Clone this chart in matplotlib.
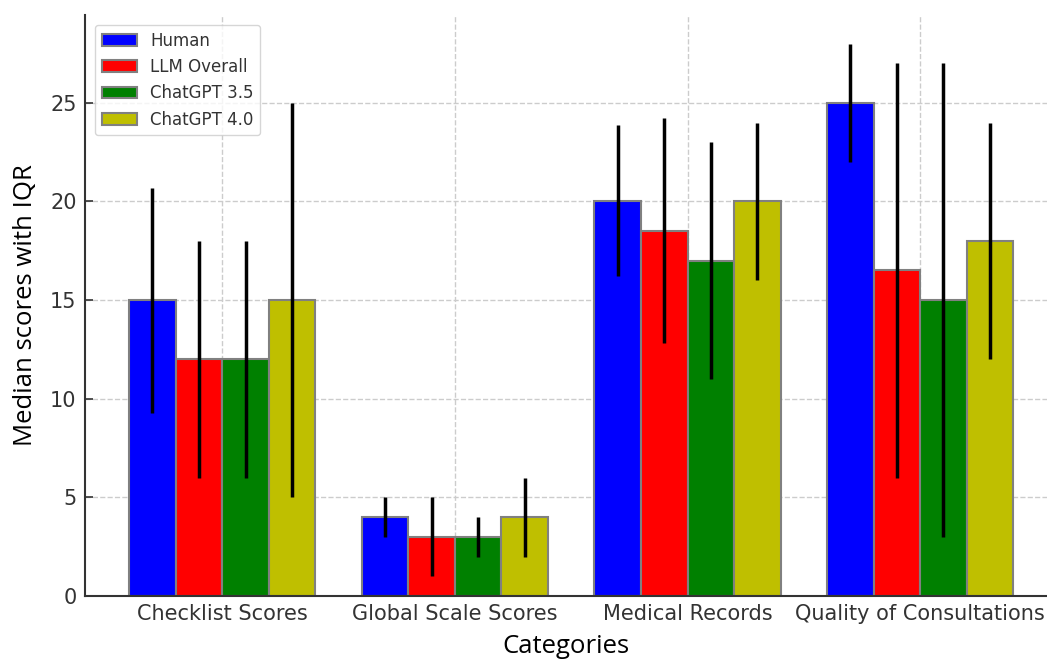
import numpy as np
import matplotlib
matplotlib.use('Agg')
import matplotlib.pyplot as plt

# Donnees
categories = ['Checklist Scores', 'Global Scale Scores', 'Medical Records', 'Quality of Consultations']
series = ['Human', 'LLM Overall', 'ChatGPT 3.5', 'ChatGPT 4.0']
colors = ['#0000ff', '#ff0000', '#008000', '#bfbf00']

human = [15, 4, 20, 25]
human_lo = [9.3, 3, 16.2, 22]
human_hi = [20.7, 5, 23.85, 28]

llm = [12, 3, 18.5, 16.5]
llm_lo = [6, 1, 12.8, 6]
llm_hi = [18, 5, 24.25, 27]

gpt35 = [12, 3, 17, 15]
gpt35_lo = [6, 2, 11, 3]
gpt35_hi = [18, 4, 23, 27]

gpt40 = [15, 4, 20, 18]
gpt40_lo = [5, 2, 16, 12]
gpt40_hi = [25, 6, 24, 24]

medians = [human, llm, gpt35, gpt40]
lows = [human_lo, llm_lo, gpt35_lo, gpt40_lo]
highs = [human_hi, llm_hi, gpt35_hi, gpt40_hi]

fig = plt.figure(figsize=(10.47, 6.59), dpi=100)
ax = fig.add_axes([85 / 1047, 63 / 659, 1 - 85 / 1047, (596 - 15) / 659])

x = np.arange(len(categories))
width = 0.2
for i, name in enumerate(series):
    med = np.array(medians[i])
    lo = med - np.array(lows[i])
    hi = np.array(highs[i]) - med
    ax.bar(x + (i - 1.5) * width, med, width, color=colors[i], edgecolor='gray',
           linewidth=1.5, label=name, zorder=2)
    ax.errorbar(x + (i - 1.5) * width, med, yerr=[lo, hi], fmt='none',
                ecolor='black', elinewidth=2.5, capsize=0, zorder=3)

ax.set_xticks(x)
ax.set_xticklabels(categories)
ax.set_yticks([0, 5, 10, 15, 20, 25])
ax.set_xlim(-0.59, 3.545)
ax.set_ylim(0, 29.45)

ax.tick_params(direction='in', labelsize=15, colors='#333333', length=6, width=1.2, pad=6)
for side in ['top', 'right']:
    ax.spines[side].set_visible(False)
for side in ['left', 'bottom']:
    ax.spines[side].set_color('#333333')
    ax.spines[side].set_linewidth(1.5)

ax.grid(True, linestyle='--', color='#cccccc', linewidth=1, zorder=0)
ax.set_axisbelow(True)

ax.set_xlabel('Categories', fontsize=18.5, family='Open Sans', labelpad=7)
ax.set_ylabel('Median scores with IQR', fontsize=18.5, family='Open Sans', labelpad=9)

leg = ax.legend(loc='upper left', fontsize=12, frameon=True, handlelength=2.1,
                labelcolor='#333333', borderaxespad=0.6)
leg.get_frame().set_edgecolor('#cccccc')

fig.savefig('out.png', dpi=100)
